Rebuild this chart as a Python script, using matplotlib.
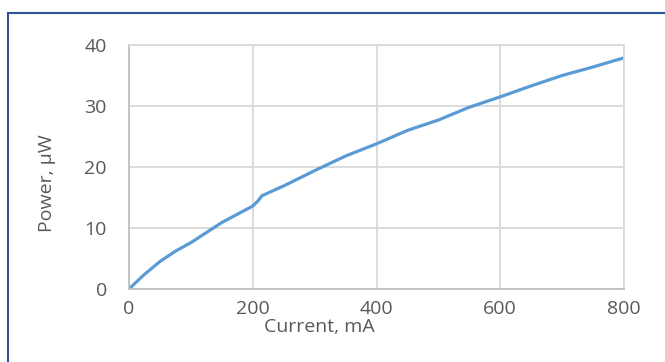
import numpy as np
import matplotlib.pyplot as plt
from matplotlib.patches import Rectangle

plt.rcParams.update({
    "font.family": ["Open Sans", "DejaVu Sans"],
    "font.size": 14,
})

# === Datos ===
current_mA = [0, 25, 50, 75, 100, 150, 200, 208, 215, 250, 300, 350, 400, 450, 500, 550, 600, 650, 700, 750, 800]
power_uW = [0, 2.4, 4.5, 6.2, 7.6, 10.9, 13.6, 14.4, 15.3, 16.9, 19.4, 21.8, 23.8, 26.0, 27.7, 29.8, 31.5, 33.3, 35.0, 36.4, 37.9]

x_ticks = [0, 200, 400, 600, 800]
y_ticks = [0, 10, 20, 30, 40]

text_col = "#595959"
grid_col = "#D9D9D9"

fig = plt.figure(figsize=(6.65, 3.62), dpi=100)
ax = fig.add_axes([129 / 665, 1 - 289 / 362, 495 / 665, 244 / 362])

ax.plot(current_mA, power_uW, color="#5B9BD5", lw=2.3, solid_capstyle="round")

ax.set_xlim(0, 800)
ax.set_ylim(0, 40)
ax.set_xticks(x_ticks)
ax.set_yticks(y_ticks)
ax.grid(True, color=grid_col, lw=1.3)
ax.set_axisbelow(True)
ax.tick_params(length=0, colors=text_col, labelsize=14)
ax.tick_params(axis="y", pad=16)
ax.tick_params(axis="x", pad=8)
for s in ax.spines.values():
    s.set_color(grid_col)
    s.set_linewidth(1.3)
ax.spines["left"].set_color("#BFBFBF")
ax.spines["bottom"].set_color("#BFBFBF")

ax.set_xlabel("Current, mA", color=text_col, fontsize=14)
ax.set_ylabel("Power, µW", color=text_col, fontsize=14)
# posiciones de las etiquetas como en el original (no centradas)
ax.xaxis.set_label_coords((319 - 129) / 495, -(318 - 289) / 244)
ax.yaxis.set_label_coords(-(129 - 56) / 495, (289 - 183) / 244)

# Borde exterior (recortado a la derecha y abajo)
fig.patches.append(Rectangle((8 / 665, -0.2), 1.2, 1 - 12.5 / 362 + 0.2,
                             transform=fig.transFigure, fill=False,
                             edgecolor="#2F5597", lw=1.5))

fig.savefig("out.png", dpi=100)
